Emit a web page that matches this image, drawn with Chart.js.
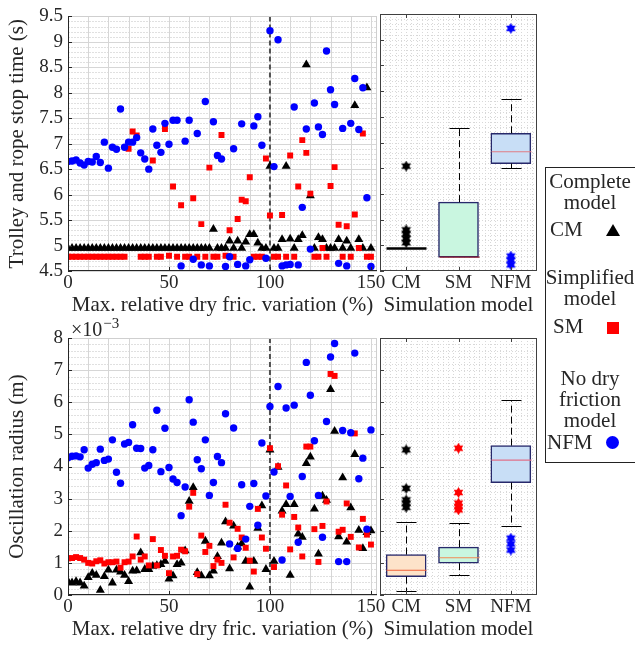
<!DOCTYPE html>
<html lang="en">
<head>
<meta charset="UTF-8">
<title>Dry friction variation</title>
<script src="https://cdn.jsdelivr.net/npm/chart.js"></script>
<style>
  * { margin: 0; padding: 0; box-sizing: border-box; }
  body { width: 635px; height: 646px; background: #fff; position: relative; overflow: hidden;
         font-family: 'Liberation Serif', serif; color: #262626; }
  canvas { position: absolute; left: 0; top: 0; }
  .lg { position: absolute; font-size: 21px; line-height: 21px; white-space: nowrap; }
  .lgTitle { left: 545px; width: 90px; text-align: center; }
  #legendBox { position: absolute; left: 545px; top: 167px; width: 100px; height: 296px; border: 1px solid #222; }
  .tri { position: absolute; width: 0; height: 0; border-left: 7px solid transparent;
         border-right: 7px solid transparent; border-bottom: 12px solid #000; }
  .sq { position: absolute; width: 12px; height: 12px; background: #ff0000; }
  .dot { position: absolute; width: 13px; height: 13px; border-radius: 50%; background: #0000ff; }
</style>
</head>
<body>
<canvas id="topScatter" width="635" height="646"></canvas>
<canvas id="botScatter" width="635" height="646"></canvas>
<canvas id="topBox" width="635" height="646"></canvas>
<canvas id="botBox" width="635" height="646"></canvas>

<div id="legendBox"></div>
<div class="lg lgTitle" style="top:171px">Complete<br>model</div>
<div class="lg" style="left:550px; top:219px">CM</div>
<div class="tri" style="left:606px; top:224px"></div>
<div class="lg lgTitle" style="top:267px">Simplified<br>model</div>
<div class="lg" style="left:553px; top:316px">SM</div>
<div class="sq" style="left:607px; top:322px"></div>
<div class="lg lgTitle" style="top:368px">No dry<br>friction<br>model</div>
<div class="lg" style="left:547px; top:432px">NFM</div>
<div class="dot" style="left:606px; top:436px"></div>

<script>
// ---- data ----
const xValues = [0,2,4,6,8,10,12,14,16,18,20,22,24,26,28,30,32,34,36,38,40,42,44,46,48,
  50,52,54,56,58,60,62,64,66,68,70,72,74,76,78,80,82,84,86,88,90,92,94,96,98,
  100,102,104,106,108,110,112,114,116,118,120,122,124,126,128,130,132,134,136,138,140,142,144,146,148,150];
const xTicks = [0, 50, 100, 150];
const refX = 100;

// stop time (s)
const topCM = [4.95,4.95,4.95,4.95,4.95,4.95,4.95,4.95,4.95,4.95,4.95,4.95,4.95,4.95,4.95,4.95,4.95,4.95,4.95,4.95,4.95,4.95,4.95,4.95,4.95,
  4.95,4.95,4.95,4.95,4.95,4.95,4.95,4.95,4.95,4.95,4.95,5.32,4.95,4.95,4.95,5.09,4.95,5.09,4.95,5.07,5.22,5.22,5.05,4.95,4.95,
  6.56,4.95,4.95,5.12,6.56,5.13,4.95,5.12,5.20,8.55,5.98,4.95,5.16,5.12,4.95,4.95,4.95,5.12,4.95,5.09,4.95,7.75,5.12,4.95,8.10,4.95];
const topSM = [4.78,4.78,4.78,4.78,4.78,4.78,4.78,4.78,4.78,4.78,4.78,4.78,4.78,4.78,4.78,6.90,7.24,7.16,4.78,4.78,4.78,6.67,4.78,4.78,7.29,
  4.80,6.16,4.78,5.79,4.78,4.78,5.93,4.78,5.42,4.78,6.53,4.78,4.78,7.17,4.80,5.30,4.78,5.52,5.90,5.87,6.34,4.78,4.78,4.78,6.71,
  5.59,4.78,4.78,5.60,4.78,6.77,4.78,6.16,7.07,6.82,6.02,4.78,4.78,4.95,4.78,6.17,6.54,5.41,4.78,5.38,4.78,5.61,4.95,7.20,4.78,4.78];
const topNFM = [6.65,6.66,6.68,6.62,6.58,6.65,6.64,6.75,6.63,7.03,6.52,6.93,6.89,7.68,6.93,7.03,7.03,7.12,6.82,6.70,6.50,7.29,6.97,6.83,7.40,
  6.99,7.46,7.46,4.60,7.05,7.46,4.73,7.20,4.62,7.83,4.60,7.43,6.77,6.70,4.59,4.78,6.90,4.63,7.39,4.60,4.72,7.35,7.53,6.97,4.75,
  9.22,6.55,9.04,4.60,4.62,4.63,7.72,4.62,5.75,7.29,4.93,7.80,7.33,7.18,8.82,8.06,7.77,4.65,7.30,4.60,7.40,8.28,7.28,8.10,5.94,4.59];
const topYTicks = [4.5, 5, 5.5, 6, 6.5, 7, 7.5, 8, 8.5, 9, 9.5];

// oscillation radius (x 1e-3 m)
const botCM = [0.42,0.38,0.42,0.38,0.28,0.55,0.68,0.62,0.15,0.58,0.78,0.38,0.78,0.72,0.62,0.42,0.75,0.76,1.32,0.80,0.80,0.90,0.92,0.95,1.05,
  0.50,0.60,0.95,1.00,1.38,2.92,3.35,0.70,0.60,1.68,0.60,0.75,1.20,1.62,2.28,0.82,2.15,1.50,1.60,1.05,0.25,1.05,2.08,2.78,0.80,
  4.52,1.05,3.98,2.62,2.82,0.62,2.82,1.90,1.80,4.10,4.30,2.68,1.28,3.08,2.95,6.40,5.10,1.82,3.65,1.65,2.72,4.38,2.02,1.45,1.95,2.00];
const botSM = [1.14,1.15,1.18,1.15,1.10,1.00,0.98,1.05,1.08,0.98,1.02,1.02,1.04,0.85,1.02,1.04,1.20,1.82,1.10,1.20,0.92,1.74,0.92,1.40,1.22,
  0.68,1.20,1.22,1.41,1.36,2.75,3.18,0.65,1.85,1.34,1.53,0.90,1.10,1.00,2.81,2.25,1.17,2.06,1.79,1.47,1.07,0.73,2.68,1.79,1.44,
  4.57,0.87,4.01,2.50,3.41,1.42,2.43,2.10,1.20,4.62,4.62,2.05,1.03,2.15,2.91,6.88,6.82,1.97,2.03,2.85,1.81,5.03,1.48,2.37,1.88,1.57];
const botNFM = [4.27,4.32,4.33,4.30,4.52,3.95,4.07,4.12,4.54,4.19,4.23,4.83,3.82,3.48,4.70,4.75,5.30,4.57,4.56,3.95,4.03,4.52,5.75,3.84,5.19,
  3.97,3.61,3.50,2.47,3.36,6.08,5.38,4.21,3.93,4.83,3.10,3.50,4.31,4.12,5.64,1.59,5.20,1.45,3.43,1.74,2.76,3.47,2.17,4.73,3.08,
  5.87,3.83,6.49,1.09,5.82,3.07,5.91,1.64,3.69,7.24,6.22,4.80,3.10,1.80,5.40,7.41,7.83,1.04,5.12,1.04,5.05,7.53,3.62,4.26,2.05,5.14];
const botYTicks = [0, 1, 2, 3, 4, 5, 6, 7, 8];

// box plot summaries
const boxCategories = ['CM', 'SM', 'NFM'];
const topBoxLow = [4.94, 4.77, 6.50];
const topBoxQ1 = [4.94, 4.77, 6.59];
const topBoxMedian = [4.94, 4.77, 6.82];
const topBoxQ3 = [4.94, 5.84, 7.18];
const topBoxHigh = [4.94, 7.28, 7.84];
const topOutCM = [6.54, 5.30, 5.22, 5.13, 5.05];
const topOutSM = [];
const topOutNFM = [9.22, 4.79, 4.71, 4.62];

const botBoxLow = [0.12, 0.61, 2.15];
const botBoxQ1 = [0.57, 0.99, 3.50];
const botBoxMedian = [0.77, 1.16, 4.20];
const botBoxQ3 = [1.26, 1.49, 4.65];
const botBoxHigh = [2.26, 2.23, 6.07];
const botOutCM = [4.52, 3.32, 2.96, 2.86, 2.73];
const botOutSM = [4.57, 3.19, 2.86, 2.75, 2.65];
const botOutNFM = [1.77, 1.59, 1.40];

// ---- styling ----
const fontFamily = "'Liberation Serif', serif";
const textColor = '#262626';
const navy = '#27296b';

function starCanvas(color, size) {
    const c = document.createElement('canvas');
    c.width = size; c.height = size;
    const g = c.getContext('2d');
    const r = size / 2, ri = r * 0.58;
    g.fillStyle = color;
    g.beginPath();
    for (let i = 0; i < 12; i++) {
        const a = -Math.PI / 2 + i * Math.PI / 6;
        const rr = i % 2 === 0 ? r : ri;
        g.lineTo(r + rr * Math.cos(a), r + rr * Math.sin(a));
    }
    g.closePath();
    g.fill();
    return c;
}

function hline(ctx, x1, x2, y) { ctx.beginPath(); ctx.moveTo(x1, y); ctx.lineTo(x2, y); ctx.stroke(); }
function vline(ctx, x, y1, y2) { ctx.beginPath(); ctx.moveTo(x, y1); ctx.lineTo(x, y2); ctx.stroke(); }

function xAxisOpts(min, max, ticks, labelFn, title) {
    return {
        type: 'linear', min: min, max: max, offset: false,
        grid: { display: false, drawTicks: false }, border: { display: false },
        afterBuildTicks: s => { s.ticks = ticks.map(v => ({ value: v })); },
        afterFit: s => { s.height = 45; },
        ticks: { padding: 1, autoSkip: false, maxRotation: 0, color: textColor,
                 font: { family: fontFamily, size: 19, lineHeight: 1.2 }, callback: labelFn },
        title: { display: true, text: title, color: textColor,
                 font: { family: fontFamily, size: 21, lineHeight: 1 }, padding: { top: 0, bottom: 0 } }
    };
}

function scatterDecor(yTicks, minorStep, expLabel) {
    return {
        id: 'scatterDecor',
        beforeDatasetsDraw(chart) {
            const { ctx, chartArea: a, scales: { x, y } } = chart;
            ctx.save();
            ctx.lineWidth = 1;
            ctx.strokeStyle = '#e0e0e0';
            ctx.setLineDash([2, 1]);
            const n = Math.round((y.max - y.min) / minorStep);
            for (let i = 1; i < n; i++) {
                hline(ctx, a.left, a.right, Math.round(y.getPixelForValue(y.min + i * minorStep)) + 0.5);
            }
            ctx.setLineDash([]);
            ctx.strokeStyle = '#d6d6d6';
            yTicks.forEach(v => hline(ctx, a.left, a.right, Math.round(y.getPixelForValue(v)) + 0.5));
            for (let v = 10; v < x.max; v += 10) {
                vline(ctx, Math.round(x.getPixelForValue(v)) + 0.5, a.top, a.bottom);
            }
            ctx.strokeStyle = '#505050';
            ctx.lineWidth = 2;
            ctx.setLineDash([5, 3]);
            vline(ctx, x.getPixelForValue(refX), a.top, a.bottom);
            ctx.restore();
        },
        afterDraw(chart) {
            const { ctx, chartArea: a, scales: { x, y } } = chart;
            ctx.save();
            ctx.lineWidth = 1;
            ctx.strokeStyle = '#cfcfcf';
            hline(ctx, a.left, a.right, Math.round(a.top) + 0.5);
            vline(ctx, Math.round(a.right) - 0.5, a.top, a.bottom);
            ctx.strokeStyle = '#262626';
            hline(ctx, a.left, a.right, Math.round(a.bottom) - 0.5);
            vline(ctx, Math.round(a.left) + 0.5, a.top, a.bottom);
            yTicks.forEach(v => hline(ctx, a.left, a.left + 4, Math.round(y.getPixelForValue(v)) + 0.5));
            xTicks.forEach(v => vline(ctx, Math.round(x.getPixelForValue(v)) + 0.5, a.bottom, a.bottom - 4));
            if (expLabel) {
                ctx.fillStyle = textColor;
                ctx.font = '20px ' + fontFamily;
                ctx.textBaseline = 'alphabetic';
                ctx.fillText('×10', 71, 336);
                const w = ctx.measureText('×10').width;
                ctx.font = '15px ' + fontFamily;
                ctx.fillText('−3', 71 + w + 1, 328);
            }
            ctx.restore();
        }
    };
}

function makeScatter(id, cm, sm, nfm, yMin, yMax, yTicks, minorStep, yTitle, pad, expLabel) {
    new Chart(document.getElementById(id), {
        type: 'scatter',
        data: {
            datasets: [
                { label: 'NFM', data: xValues.map((x, i) => ({ x: x, y: nfm[i] })),
                  pointStyle: 'circle', pointRadius: 3.7, backgroundColor: '#0000ff', borderWidth: 0 },
                { label: 'SM', data: xValues.map((x, i) => ({ x: x, y: sm[i] })),
                  pointStyle: 'rect', pointRadius: 4.2, backgroundColor: '#ff0000', borderWidth: 0 },
                { label: 'CM', data: xValues.map((x, i) => ({ x: x, y: cm[i] })),
                  pointStyle: 'triangle', pointRadius: 5.2, backgroundColor: '#000000', borderWidth: 0 }
            ]
        },
        options: {
            responsive: false, animation: false, events: [],
            layout: { padding: pad },
            plugins: { legend: { display: false }, tooltip: { enabled: false } },
            scales: {
                x: xAxisOpts(0, 153, xTicks, v => String(v), 'Max. relative dry fric. variation (%)'),
                y: {
                    type: 'linear', min: yMin, max: yMax,
                    grid: { display: false, drawTicks: false }, border: { display: false },
                    afterBuildTicks: s => { s.ticks = yTicks.map(v => ({ value: v })); },
                    afterFit: s => { s.width = 68; },
                    ticks: { padding: 5, autoSkip: false, color: textColor, font: { family: fontFamily, size: 19 },
                             callback: v => String(v) },
                    title: { display: true, text: yTitle, color: textColor,
                             font: { family: fontFamily, size: 21, lineHeight: 1 }, padding: { top: 7, bottom: 0 } }
                }
            }
        },
        plugins: [scatterDecor(yTicks, minorStep, expLabel)]
    });
}

function boxDecor(yTicks, minorStep, low, med, high, q1, q3, medColors) {
    return {
        id: 'boxDecor',
        beforeDatasetsDraw(chart) {
            const { ctx, chartArea: a, scales: { x, y } } = chart;
            ctx.save();
            ctx.lineWidth = 1;
            ctx.strokeStyle = '#d8d8d8';
            ctx.setLineDash([1, 2]);
            const n = Math.round((y.max - y.min) / minorStep);
            for (let i = 1; i < n; i++) {
                hline(ctx, a.left, a.right, Math.round(y.getPixelForValue(y.min + i * minorStep)) + 0.5);
            }
            for (let i = 1; i < 30; i++) {
                vline(ctx, Math.round(x.getPixelForValue(x.min + i * 0.1)) + 0.5, a.top, a.bottom);
            }
            ctx.restore();
        },
        afterDatasetsDraw(chart) {
            const { ctx, chartArea: a, scales: { x, y } } = chart;
            ctx.save();
            ctx.strokeStyle = '#000';
            ctx.lineWidth = 1;
            boxCategories.forEach((c, i) => {
                const cx = Math.round(x.getPixelForValue(i + 1)) + 0.5;
                ctx.setLineDash([7, 4]);
                if (high[i] > q3[i]) vline(ctx, cx, y.getPixelForValue(q3[i]), y.getPixelForValue(high[i]));
                if (low[i] < q1[i]) vline(ctx, cx, y.getPixelForValue(q1[i]), y.getPixelForValue(low[i]));
                ctx.setLineDash([]);
                if (high[i] > q3[i]) hline(ctx, cx - 10, cx + 10, Math.round(y.getPixelForValue(high[i])) + 0.5);
                if (low[i] < q1[i]) hline(ctx, cx - 10, cx + 10, Math.round(y.getPixelForValue(low[i])) + 0.5);
                ctx.strokeStyle = medColors[i];
                ctx.lineWidth = q1[i] === q3[i] ? 2.5 : 1.2;
                hline(ctx, cx - 20, cx + 20, y.getPixelForValue(med[i]));
                ctx.strokeStyle = '#000';
                ctx.lineWidth = 1;
            });
            ctx.restore();
        },
        afterDraw(chart) {
            const { ctx, chartArea: a, scales: { x, y } } = chart;
            ctx.save();
            ctx.strokeStyle = '#404040';
            ctx.lineWidth = 1;
            ctx.strokeRect(Math.round(a.left) + 0.5, Math.round(a.top) + 0.5,
                           Math.round(a.right - a.left) - 1, Math.round(a.bottom - a.top) - 1);
            yTicks.forEach(v => hline(ctx, a.left, a.left + 4, Math.round(y.getPixelForValue(v)) + 0.5));
            boxCategories.forEach((c, i) => {
                const px = Math.round(x.getPixelForValue(i + 1)) + 0.5;
                vline(ctx, px, a.top, a.top + 4);
                vline(ctx, px, a.bottom, a.bottom - 4);
            });
            ctx.restore();
        }
    };
}

function makeBox(id, low, q1, med, q3, high, outs, outColors, fills, medColors, yMin, yMax, yTicks, minorStep, pad) {
    const outSets = outs.map((vals, k) => ({
        type: 'scatter',
        data: vals.map(v => ({ x: k + 1, y: v })),
        pointStyle: starCanvas(outColors[k], 11), pointRadius: 5
    }));
    new Chart(document.getElementById(id), {
        type: 'scatter',
        data: {
            datasets: outSets.concat([{
                type: 'bar',
                data: boxCategories.map((c, i) => ({ x: i + 1, y: [q1[i], q3[i]] })),
                backgroundColor: fills, borderColor: navy, borderWidth: 1.5,
                borderSkipped: false, barThickness: 40
            }])
        },
        options: {
            responsive: false, animation: false, events: [],
            layout: { padding: pad },
            plugins: { legend: { display: false }, tooltip: { enabled: false } },
            scales: {
                x: xAxisOpts(0.5, 3.5, [1, 2, 3], v => boxCategories[Math.round(v) - 1], 'Simulation model'),
                y: { type: 'linear', display: false, min: yMin, max: yMax }
            }
        },
        plugins: [boxDecor(yTicks, minorStep, low, med, high, q1, q3, medColors)]
    });
}

makeScatter('topScatter', topCM, topSM, topNFM, 4.5, 9.5, topYTicks, 0.1,
    'Trolley and rope stop time (s)', { left: 0, right: 258, top: 14, bottom: 330 }, false);
makeScatter('botScatter', botCM, botSM, botNFM, 0, 8, botYTicks, 0.2,
    'Oscillation radius (m)', { left: 0, right: 258, top: 338, bottom: 6 }, true);

makeBox('topBox', topBoxLow, topBoxQ1, topBoxMedian, topBoxQ3, topBoxHigh,
    [topOutCM, topOutSM, topOutNFM], ['#000000', '#ff0000', '#0000ff'],
    ['#000000', '#c9f6e0', '#c8def6'], ['#000000', '#8b1a2b', '#e07c84'],
    4.5, 9.5, topYTicks, 0.1, { left: 380, right: 98, top: 14, bottom: 330 });
makeBox('botBox', botBoxLow, botBoxQ1, botBoxMedian, botBoxQ3, botBoxHigh,
    [botOutCM, botOutSM, botOutNFM], ['#000000', '#ff0000', '#0000ff'],
    ['#fde3c9', '#c9f6e0', '#c8def6'], ['#f0603a', '#f08a55', '#e0708a'],
    0, 8, botYTicks, 0.2, { left: 380, right: 98, top: 338, bottom: 6 });
</script>
</body>
</html>
